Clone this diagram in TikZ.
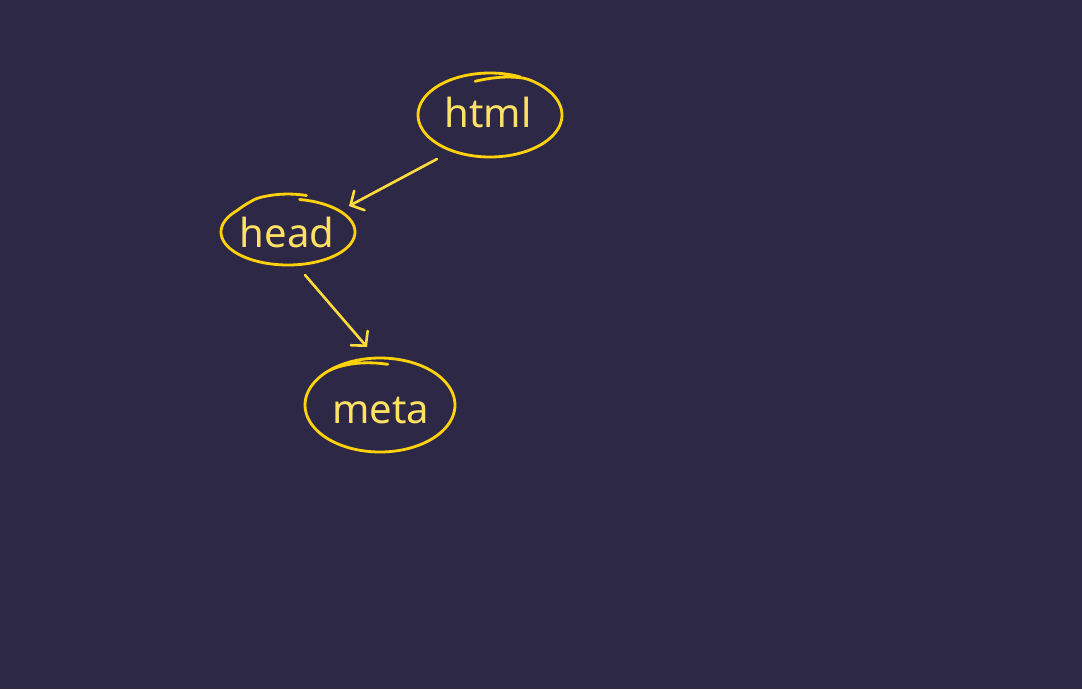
\documentclass[tikz,border=0pt]{standalone}
\usepackage{fontspec}
\setmainfont{Noto Sans}
\usetikzlibrary{arrows.meta}
\definecolor{bg}{RGB}{46,40,71}
\definecolor{stroke}{RGB}{255,210,10}
\definecolor{txt}{RGB}{255,226,100}
\definecolor{arrowc}{RGB}{255,220,60}
\begin{document}
\begin{tikzpicture}[x=1pt,y=-1pt,
  word/.style={text=txt,font=\fontsize{40}{40}\selectfont,inner sep=0pt,anchor=base},
  oval/.style={draw=stroke,line width=2.8pt,line cap=round,line join=round},
  arr/.style={draw=arrowc,line width=2.6pt,line cap=round,-{Straight Barb[length=10pt,width=22pt,line cap=round]}}]
\fill[bg] (0,0) rectangle (1082,689);
\useasboundingbox (0,0) rectangle (1082,689);
% text nodes
\node[word] (html) at (488,127) {html};
\node[word] (head) at (287,247) {head};
\node[word] (meta) at (381,423) {meta};
% hand-drawn ovals
\draw[oval] plot[smooth,domain=258:655,samples=90]
  ({490+72*cos(\x)},{115+42*sin(\x)*(0.82+0.18*min(1,(\x-258)/42))});
\draw[oval] plot[smooth,domain=280:646,samples=90]
  ({288+67*cos(\x)},{232+33*sin(\x)*(1+0.15*min(1,max(0,\x-580)/22))});
\draw[oval] plot[smooth,domain=84:496,samples=90]
  ({380+75*cos(\x)},{405-47*sin(\x)*(0.87+0.13*min(1,(\x-84)/50))});
% connectors
\draw[arr] ([shift={(-51,32)}]html.base) -- ([shift={(62,-41)}]head.base);
\draw[arr] ([shift={(18,28)}]head.base) -- ([shift={(-14,-76)}]meta.base);
\end{tikzpicture}
\end{document}
